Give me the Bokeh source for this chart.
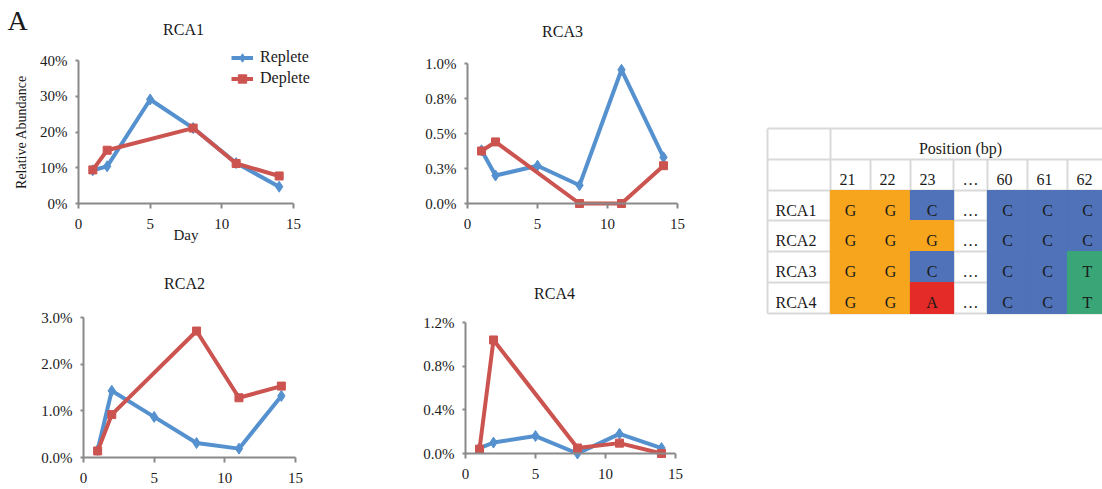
from bokeh.plotting import figure
from bokeh.models import Range1d, FixedTicker, Label, Legend, LegendItem, ColumnDataSource
from bokeh.layouts import row, column
from bokeh.core.properties import value
from bokeh.embed import file_html
from bokeh.resources import INLINE

# ---------------- data ----------------
days_replete = [1, 2, 5, 8, 11, 14]
days_deplete = [1, 2, 8, 11, 14]

rca1_replete = [9.3, 10.4, 29.1, 21.1, 11.3, 4.7]
rca1_deplete = [9.4, 14.9, 21.1, 11.2, 7.7]
rca3_replete = [0.38, 0.20, 0.27, 0.13, 0.955, 0.33]
rca3_deplete = [0.375, 0.44, 0.0, 0.0, 0.27]
rca2_replete = [0.16, 1.43, 0.87, 0.31, 0.19, 1.32]
rca2_deplete = [0.14, 0.92, 2.71, 1.28, 1.53]
rca4_replete = [0.05, 0.10, 0.16, 0.0, 0.18, 0.05]
rca4_deplete = [0.04, 1.04, 0.05, 0.095, 0.0]

x_ticks = [0, 5, 10, 15]
rca1_yticks = [0, 10, 20, 30, 40]
rca1_ylabels = ["0%", "10%", "20%", "30%", "40%"]
rca3_yticks = [0, 0.25, 0.5, 0.75, 1.0]
rca3_ylabels = ["0.0%", "0.3%", "0.5%", "0.8%", "1.0%"]
rca2_yticks = [0, 1, 2, 3]
rca2_ylabels = ["0.0%", "1.0%", "2.0%", "3.0%"]
rca4_yticks = [0, 0.4, 0.8, 1.2]
rca4_ylabels = ["0.0%", "0.4%", "0.8%", "1.2%"]

positions = ["21", "22", "23", "…", "60", "61", "62"]
strains = ["RCA1", "RCA2", "RCA3", "RCA4"]
bases_rca1 = ["G", "G", "C", "…", "C", "C", "C"]
bases_rca2 = ["G", "G", "G", "…", "C", "C", "C"]
bases_rca3 = ["G", "G", "C", "…", "C", "C", "T"]
bases_rca4 = ["G", "G", "A", "…", "C", "C", "T"]

# ---------------- style ----------------
FONT = "Liberation Serif"
BLUE = "#5591CE"
RED = "#CC5450"
AXIS = "#898989"
TXT = "#1a1a1a"
base_colors = {"G": "#F6A51D", "C": "#4F72B9", "A": "#E42B27", "T": "#3AA577"}


def make_panel(title, rep, dep, yticks, ylabels, fig_box, frame_box, title_c,
               ylabel=None, xlabel=None, legend=False, letter=None):
    fx0, fy0, fw, fh = fig_box
    left, top, right, zero = frame_box
    ymax = yticks[-1]
    sx = (right - left) / 15.0
    sy = (zero - top) / ymax
    xr = Range1d(-(left - fx0) / sx, 15 + (fx0 + fw - right) / sx)
    yr = Range1d(-(fy0 + fh - zero) / sy, ymax + (top - fy0) / sy)
    p = figure(width=fw, height=fh, output_backend="svg", toolbar_location=None,
               x_range=xr, y_range=yr, min_border=0,
               min_border_left=0, min_border_right=0,
               min_border_top=0, min_border_bottom=0)
    p.outline_line_color = None
    p.xgrid.visible = False
    p.ygrid.visible = False

    r1 = p.line(days_replete, rep, line_color=BLUE, line_width=4)
    m1 = p.scatter(days_replete, rep, marker="diamond", size=11,
                   fill_color=BLUE, line_color=BLUE)
    r2 = p.line(days_deplete, dep, line_color=RED, line_width=4)
    m2 = p.scatter(days_deplete, dep, marker="square", size=8,
                   fill_color=RED, line_color=RED)

    for ax in (p.xaxis[0], p.yaxis[0]):
        ax.fixed_location = 0
        ax.axis_line_color = AXIS
        ax.axis_line_width = 2
        ax.major_tick_line_color = AXIS
        ax.major_tick_line_width = 2
        ax.minor_tick_line_color = None
        ax.major_tick_in = 0
        ax.major_label_text_font = FONT
        ax.major_label_text_font_size = "15px"
        ax.major_label_text_color = TXT
        ax.axis_label_text_font = FONT
        ax.axis_label_text_font_style = "normal"
        ax.axis_label_text_color = TXT

    xa = p.xaxis[0]
    xa.ticker = FixedTicker(ticks=x_ticks)
    xa.bounds = (0, 15)
    xa.major_tick_out = 5
    xa.major_label_standoff = 10
    xa.axis_label_text_font_size = "15px"
    if xlabel:
        xa.axis_label = xlabel
        xa.axis_label_standoff = -5

    ya = p.yaxis[0]
    ya.ticker = FixedTicker(ticks=yticks)
    ya.major_label_overrides = {t: l for t, l in zip(yticks, ylabels)}
    ya.bounds = (0, ymax)
    ya.major_tick_out = 3
    ya.major_label_standoff = 8
    ya.axis_label_text_font_size = "14px"
    if ylabel:
        ya.axis_label = ylabel
        ya.axis_label_standoff = 8

    cx, cy = title_c
    p.add_layout(Label(x=cx - fx0, y=fy0 + fh - cy, x_units="screen", y_units="screen",
                       text=title, text_font=FONT, text_font_size="16px",
                       text_color=TXT, text_align="center", text_baseline="middle"))
    if letter:
        lx, ly = letter
        p.add_layout(Label(x=lx - fx0, y=fy0 + fh - ly, x_units="screen", y_units="screen",
                           text="A", text_font=FONT, text_font_size="28px",
                           text_color=TXT, text_align="center", text_baseline="middle"))
    if legend:
        lg = Legend(items=[LegendItem(label="Replete", renderers=[r1, m1]),
                           LegendItem(label="Deplete", renderers=[r2, m2])],
                    location=(231 - fx0, fy0 + fh - 88.5),
                    glyph_width=22, glyph_height=21, label_height=21, spacing=0,
                    label_standoff=7, padding=0, margin=0,
                    border_line_color=None, background_fill_alpha=0,
                    label_text_font=FONT, label_text_font_size="16px",
                    label_text_color=TXT)
        p.add_layout(lg)
    return p


p1 = make_panel("RCA1", rca1_replete, rca1_deplete, rca1_yticks, rca1_ylabels,
                (0, 0, 380, 255), (78, 60, 293, 203), (183, 28.5),
                ylabel="Relative Abundance", xlabel="Day", legend=True, letter=(17, 20))
p3 = make_panel("RCA3", rca3_replete, rca3_deplete, rca3_yticks, rca3_ylabels,
                (380, 0, 360, 255), (467, 63, 677, 203), (562, 30.5))
p2 = make_panel("RCA2", rca2_replete, rca2_deplete, rca2_yticks, rca2_ylabels,
                (0, 255, 380, 234), (83, 317, 295, 457), (184, 283))
p4 = make_panel("RCA4", rca4_replete, rca4_deplete, rca4_yticks, rca4_ylabels,
                (380, 255, 360, 234), (465, 322, 675, 453), (554, 292.5))

# ---------------- table ----------------
TW, TH = 362, 489
pt = figure(width=TW, height=TH, output_backend="svg", toolbar_location=None,
            x_range=Range1d(0, TW), y_range=Range1d(TH, 0),
            min_border=0, min_border_left=0, min_border_right=0,
            min_border_top=0, min_border_bottom=0)
pt.axis.visible = False
pt.xgrid.visible = False
pt.ygrid.visible = False
pt.outline_line_color = None

col_edges = [27, 90, 130, 170, 213, 247, 287, 327, 367]
row_edges = [128, 159, 190, 220, 251, 282, 313]
GRID = "#D9D9D9"

# grid lines
hx0, hx1, hy0, hy1 = [], [], [], []
for ry in row_edges:
    hx0.append(col_edges[0]); hx1.append(col_edges[-1]); hy0.append(ry); hy1.append(ry)
for i, cx in enumerate(col_edges[:-1]):
    hx0.append(cx); hx1.append(cx)
    hy0.append(row_edges[0] if i < 2 else row_edges[1]); hy1.append(row_edges[-1])
pt.segment(x0=hx0, y0=hy0, x1=hx1, y1=hy1, line_color=GRID, line_width=2)

# colored cells
all_bases = [bases_rca1, bases_rca2, bases_rca3, bases_rca4]
ql, qr, qt, qb, qc = [], [], [], [], []
for i, bs in enumerate(all_bases):
    for j, b in enumerate(bs):
        if b in base_colors:
            ql.append(col_edges[j + 1]); qr.append(col_edges[j + 2])
            qt.append(row_edges[i + 2]); qb.append(row_edges[i + 3])
            qc.append(base_colors[b])
pt.quad(left=ql, right=qr, top=qt, bottom=qb, fill_color=qc, line_color=qc, line_width=1.2)

# texts
tx, ty, tt, ta = [], [], [], []
tx.append(220); ty.append((row_edges[0] + row_edges[1]) / 2 + 4.5)
tt.append("Position (bp)"); ta.append("center")
for j, pos in enumerate(positions):
    tx.append(col_edges[j + 1] + 9); ty.append((row_edges[1] + row_edges[2]) / 2 + 4.5)
    tt.append(pos); ta.append("left")
for i, s in enumerate(strains):
    yc = (row_edges[i + 2] + row_edges[i + 3]) / 2 + 4.5
    tx.append(col_edges[0] + 8); ty.append(yc); tt.append(s); ta.append("left")
    for j, b in enumerate(all_bases[i]):
        tx.append((col_edges[j + 1] + col_edges[j + 2]) / 2); ty.append(yc)
        tt.append(b); ta.append("center")
src = ColumnDataSource(dict(x=tx, y=ty, text=tt, align=ta))
pt.text(x="x", y="y", text="text", source=src, text_align="align",
        text_baseline="middle", text_font=value(FONT), text_font_size=value("16px"),
        text_color=TXT)

layout = row(column(p1, p2), column(p3, p4), pt)
open("out.html", "w").write(file_html(layout, INLINE))
